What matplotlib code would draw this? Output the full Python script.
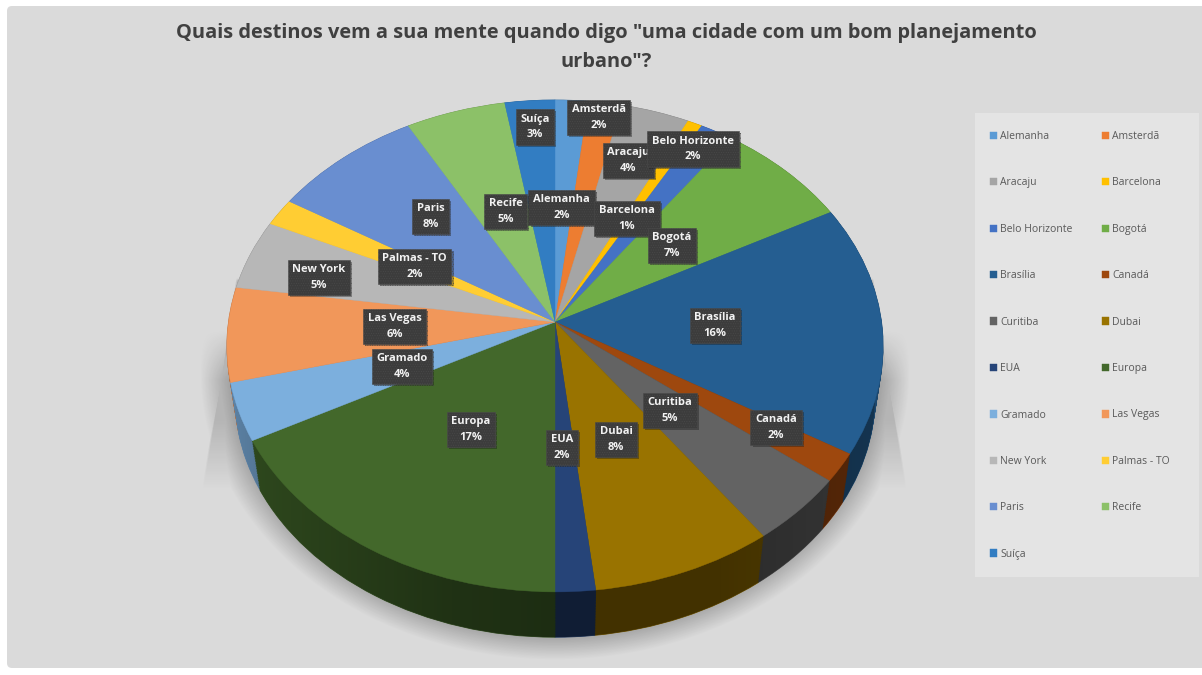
import numpy as np
import matplotlib
matplotlib.use("Agg")
import matplotlib.pyplot as plt
import matplotlib.patheffects as pe
from matplotlib.patches import FancyBboxPatch, Polygon, Rectangle
from matplotlib.transforms import Transform
from matplotlib.colors import to_rgb

plt.rcParams['font.family'] = ['Open Sans', 'DejaVu Sans']
plt.rcParams['hatch.linewidth'] = 0.35

title = 'Quais destinos vem a sua mente quando digo "uma cidade com um bom planejamento\nurbano"?'

cities = ['Alemanha', 'Amsterdã', 'Aracaju', 'Barcelona', 'Belo Horizonte', 'Bogotá',
          'Brasília', 'Canadá', 'Curitiba', 'Dubai', 'EUA', 'Europa', 'Gramado',
          'Las Vegas', 'New York', 'Palmas - TO', 'Paris', 'Recife', 'Suíça']
# slice sizes
shares = [1.8, 1.8, 3.7, 0.8, 1.8, 7.3, 16.4, 1.9, 4.5, 8.2, 1.8, 17.3, 3.8, 6.2, 4.6, 1.8, 8.2, 5.4, 2.7]
# percentages as printed on the labels
printed = [2, 2, 4, 1, 2, 7, 16, 2, 5, 8, 2, 17, 4, 6, 5, 2, 8, 5, 3]

colors = ['#5b9bd5', '#ed7d31', '#a5a5a5', '#ffc000', '#4472c4', '#70ad47',
          '#255e91', '#9e480e', '#636363', '#997300', '#264478', '#43682b',
          '#7cafdd', '#f1975a', '#b7b7b7', '#ffcd33', '#698ed0', '#8cc168', '#327dc2']

# label box centres, in pixels
label_x = [561.5, 598.5, 628.5, 627, 693, 672, 715, 776, 670, 616, 562, 471, 402, 394.5, 319, 414.5, 430.5, 505.5, 535]
label_y = [207, 117, 160, 218, 148.5, 245, 325, 427, 410, 439, 447, 429, 366, 326, 277, 266, 216, 211, 126.5]

# pie geometry in pixels
CX, CY = 555.0, 322.0
A, B, K = 326.5, 243.6, 0.0975
DEPTH, SHRINK = 52.0, 0.025


class Perspective(Transform):
    # unit circle -> tilted disc on the picture, d is 0 on top and 1 at the bottom
    input_dims = 2
    output_dims = 2
    is_separable = False
    has_inverse = False

    def __init__(self, d=0.0):
        super().__init__()
        self.d = d

    def transform_non_affine(self, values):
        values = np.asarray(values)
        u, v = values[:, 0], values[:, 1]
        s = 1 - SHRINK * self.d
        w = 1 + K * v
        return np.column_stack([CX + s * A * u / w, CY + DEPTH * self.d - s * B * v / w])


def darker(c, f):
    return tuple(x * f for x in to_rgb(c))


fig = plt.figure(figsize=(12.02, 6.75), dpi=100, facecolor='white')
ax = fig.add_axes([0, 0, 1, 1])

# the side of the pie, stacked from the bottom up
side_colors = [darker(c, 0.75) for c in colors]
for d in np.linspace(1, 0, 30):
    wedges, _ = ax.pie(shares, colors=side_colors, startangle=90, counterclock=False, radius=1,
                       wedgeprops=dict(zorder=2, linewidth=0.6))
    for w in wedges:
        w.set_edgecolor(w.get_facecolor())
        w.set_transform(Perspective(d) + ax.transData)

# top face
top_wedges, _ = ax.pie(shares, colors=colors, startangle=90, counterclock=False, radius=1,
                       wedgeprops=dict(zorder=4, linewidth=0.3))
for w in top_wedges:
    w.set_edgecolor(w.get_facecolor())
    w.set_transform(Perspective(0) + ax.transData)

ax.set_aspect('auto')
ax.set_xlim(0, 1202)
ax.set_ylim(675, 0)
ax.axis('off')

xx, yy = np.meshgrid(np.arange(1202) + 0.5, np.arange(675) + 0.5)

# grey background card
ax.add_patch(FancyBboxPatch((10, 9), 1200, 656, boxstyle='round,pad=3,rounding_size=5',
                            fc='#dadada', ec='none', zorder=0))

# soft shadow around the lower part of the pie
r = np.sqrt(((xx - CX) / 355.0) ** 2 + ((yy - 372.0) / 288.0) ** 2)
fade = np.clip((1 - r) / 0.1, 0, 1) * np.clip((yy - 330) / 50.0, 0, 1)
# straight flared edges left and right of the pie
edge_l = 236 - 31 * (yy - 278) / 190.0
edge_r = 874 + 33 * (yy - 280) / 207.0
flare = np.clip((xx - edge_l) / 2.0, 0, 1) * np.clip((edge_r - xx) / 2.0, 0, 1)
flare = flare * np.clip((yy - 278) / 3.0, 0, 1) * np.clip((490 - yy) / 70.0, 0, 1)
shadow = np.zeros((675, 1202, 4))
shadow[..., 3] = np.maximum(0.3 * fade, 0.17 * flare)
ax.imshow(shadow, extent=(0, 1202, 675, 0), aspect='auto', zorder=1, interpolation='bilinear')

# the side gets darker towards the front
alpha_row = np.interp(np.arange(1202), [225, 260, 450, 555, 720, 850, 885], [0.0, 0.1, 0.36, 0.42, 0.42, 0.3, 0.25])
shade = np.zeros((1, 1202, 4))
shade[..., 3] = alpha_row
img = ax.imshow(shade, extent=(0, 1202, 675, 0), aspect='auto', zorder=3)
ang = np.radians(np.linspace(180, 360, 200))
low = Perspective(1).transform_non_affine(np.column_stack([np.cos(ang), np.sin(ang)]))
ends = Perspective(0).transform_non_affine(np.array([[-1.0, 0.0], [1.0, 0.0]]))
clip_poly = Polygon(np.vstack([ends[0], low, ends[1]]), closed=True, transform=ax.transData)
img.set_clip_path(clip_poly)

ax.set_xlim(0, 1202)
ax.set_ylim(675, 0)

# data labels
for name, pct, lx, ly in zip(cities, printed, label_x, label_y):
    t = ax.text(lx, ly + 0.5, f'{name}\n{pct}%', color='#f2f2f2', fontsize=8, fontweight='bold',
                ha='center', va='center', linespacing=1.55, zorder=6,
                bbox=dict(boxstyle='square,pad=0.42', fc='#3c3c3c', ec='#4a4a4a', lw=0.4, hatch='.......'))
    t.get_bbox_patch().set_path_effects([pe.withSimplePatchShadow(offset=(1.5, -1.5), alpha=0.35)])

ax.text(606, 47.5, title, color='#404040', fontsize=14.45, fontweight='bold', ha='center', va='center',
        linespacing=1.6, zorder=6)

# legend panel, filled row by row
ax.add_patch(Rectangle((975, 113), 224, 464, fc='#e4e4e4', ec='none', zorder=1))
order = list(range(0, 19, 2)) + list(range(1, 19, 2))
leg = ax.legend([top_wedges[i] for i in order], [cities[i] for i in order], ncol=2,
                loc='upper left', bbox_to_anchor=(990, 131), bbox_transform=ax.transData,
                frameon=False, fontsize=7.5, labelcolor='#595959', borderpad=0, borderaxespad=0,
                handlelength=0.7, handleheight=0.7, handletextpad=0.3,
                labelspacing=3.4, columnspacing=2.8)
leg.set_zorder(6)

fig.savefig('out.png', dpi=100)
